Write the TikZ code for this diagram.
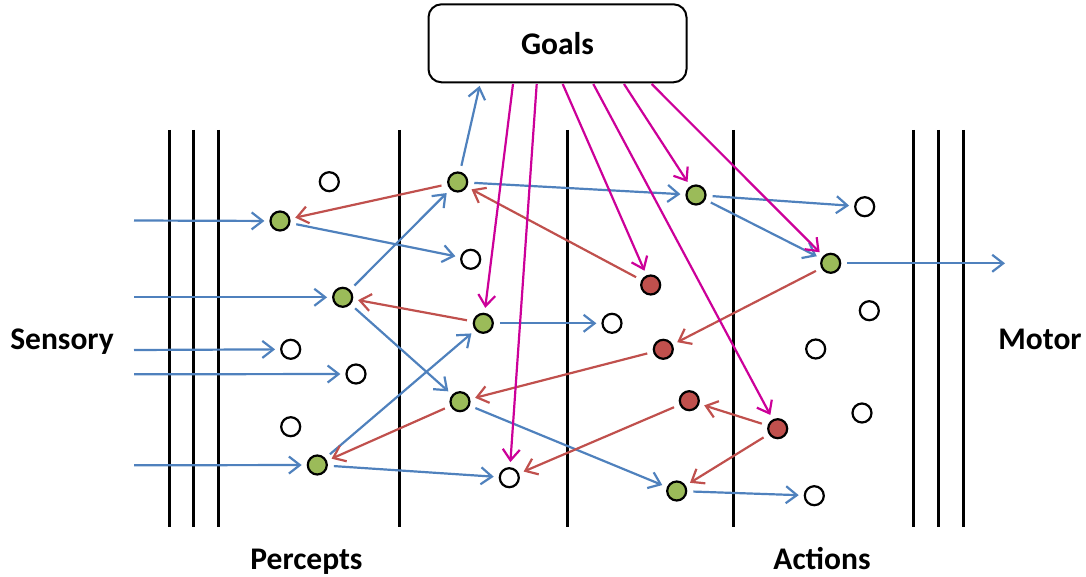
\documentclass[tikz,border=0pt]{standalone}
\usepackage{fontspec}
\setmainfont{Carlito}
\usetikzlibrary{arrows.meta}
\definecolor{cblue}{HTML}{4F81BD}
\definecolor{cred}{HTML}{C0504D}
\definecolor{cgreen}{HTML}{9BBB59}
\definecolor{cmag}{HTML}{CC0099}
\begin{document}
\begin{tikzpicture}[x=1pt,y=-1pt,
  nd/.style={circle,draw=black,line width=2.2pt,minimum size=19pt,inner sep=0pt},
  gn/.style={nd,fill=cgreen},
  rn/.style={nd,fill=cred},
  wn/.style={nd,fill=white},
  conn/.style={line width=2.2pt,-{Straight Barb[length=11pt,width=17pt,line width=2.2pt]},shorten >=5pt,shorten <=6pt},
  bl/.style={conn,draw=cblue},
  rd/.style={conn,draw=cred},
  mg/.style={conn,draw=cmag,shorten <=0pt},
  bar/.style={line width=3pt,draw=black},
  lbl/.style={font=\fontsize{31.5}{36}\selectfont\bfseries,inner sep=0pt,anchor=base}]
\useasboundingbox (0,0) rectangle (1086,577);
% vertical bars
\foreach \x in {169,193,218,399,567,733,913,938,963}
  \draw[bar] (\x,130) -- (\x,527);
% goals
\node[draw,line width=2pt,rounded corners=13pt,minimum width=258pt,minimum height=78pt,fill=white,
  font=\fontsize{31.5}{36}\selectfont\bfseries] (goals) at (557.5,43.3) {\raisebox{-3pt}{Goals}};
% labels
\node[lbl] (sens) at (62,349) {Sensory};
\node[lbl] (mot) at (1040,349) {Motor};
\node[lbl] (perc) at (306.5,569) {Percepts};
\node[lbl] (act) at (822,569) {Actions};
% nodes
\node[wn] (w1) at (329.3,181.7) {};
\node[gn] (p1) at (280,221) {};
\node[gn] (q1) at (457.7,182) {};
\node[gn] (p2) at (342.7,297.3) {};
\node[wn] (w2) at (470.7,259.3) {};
\node[wn] (w3) at (290.7,349.3) {};
\node[wn] (w4) at (356,374) {};
\node[wn] (w5) at (290.7,426.7) {};
\node[gn] (p3) at (317.3,465) {};
\node[gn] (q3) at (460,401.7) {};
\node[gn] (q2) at (483.3,323.3) {};
\node[wn] (w6) at (612,323.3) {};
\node[wn] (w7) at (509.3,477.7) {};
\node[rn] (r1) at (650.7,285) {};
\node[rn] (r2) at (663.3,349.3) {};
\node[rn] (r3) at (689.3,400.7) {};
\node[rn] (r4) at (777.7,428.7) {};
\node[gn] (a1) at (696,195) {};
\node[gn] (a2) at (830.7,263.3) {};
\node[gn] (a3) at (676.7,491) {};
\node[wn] (w8) at (864.7,206.7) {};
\node[wn] (w9) at (869.3,310.7) {};
\node[wn] (w10) at (815.7,349) {};
\node[wn] (w11) at (862,413) {};
\node[wn] (w12) at (814.3,495.7) {};
% free coordinates
\coordinate (s1) at (134,220.5);
\coordinate (s2) at (134,297.3);
\coordinate (s3) at (134,350);
\coordinate (s4) at (134,374.3);
\coordinate (s5) at (134,465.3);
\coordinate (out) at (1005,263.3);
\coordinate (gup) at (480.5,82);
\coordinate (g1) at (513,84);
\coordinate (g2) at (536.7,84);
\coordinate (g3) at (562.7,84);
\coordinate (g4) at (593.3,84);
\coordinate (g5) at (624,84);
\coordinate (g6) at (651.7,84);
% blue
\draw[bl,shorten <=0pt] (s1) -- (p1);
\draw[bl,shorten <=0pt] (s2) -- (p2);
\draw[bl,shorten <=0pt] (s3) -- (w3);
\draw[bl,shorten <=0pt] (s4) -- (w4);
\draw[bl,shorten <=0pt] (s5) -- (p3);
\draw[bl] (p1) -- (w2);
\draw[bl] (p2) -- (q1);
\draw[bl] (p2) -- (q3);
\draw[bl,shorten >=4pt] (q1) -- (gup);
\draw[bl] (q1) -- (a1);
\draw[bl] (q2) -- (w6);
\draw[bl] (p3) -- (q2);
\draw[bl] (p3) -- (w7);
\draw[bl] (q3) -- (a3);
\draw[bl] (a1) -- (w8);
\draw[bl] (a1) -- (a2);
\draw[bl,shorten >=0pt] (a2) -- (out);
\draw[bl] (a3) -- (w12);
% red
\draw[rd] (q1) -- (p1);
\draw[rd] (r1) -- (q1);
\draw[rd] (q2) -- (p2);
\draw[rd] (q3) -- (p3);
\draw[rd] (a2) -- (r2);
\draw[rd] (r2) -- (q3);
\draw[rd] (r3) -- (w7);
\draw[rd] (r4) -- (r3);
\draw[rd] (r4) -- (a3);
% magenta
\draw[mg] (g1) -- (q2);
\draw[mg] (g2) -- (w7);
\draw[mg] (g3) -- (r1);
\draw[mg] (g4) -- (r4);
\draw[mg] (g5) -- (a1);
\draw[mg] (g6) -- (a2);
\end{tikzpicture}
\end{document}
